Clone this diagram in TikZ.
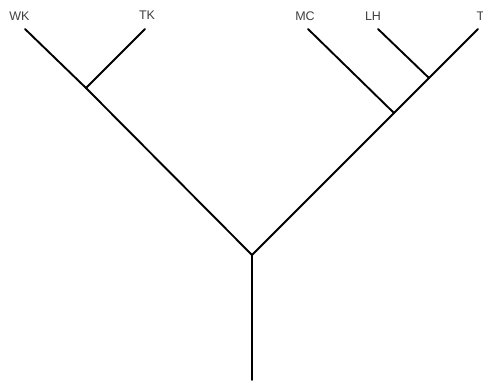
\documentclass[tikz,border=0pt]{standalone}
\usepackage{fontspec}
\setmainfont{Liberation Sans}
\begin{document}
\begin{tikzpicture}[x=1pt,y=-1pt,
  branch/.style={line width=1.9pt, line cap=round, line join=round},
  taxon/.style={font=\fontsize{12.5}{14}\selectfont, text=black!75, inner sep=0pt}]
\useasboundingbox (0,0) rectangle (483,383);
% labels
\node[taxon] (lwk) at (19.5,16) {WK};
\node[taxon] (ltk) at (147,15.5) {TK};
\node[taxon] (lmc) at (305,16) {MC};
\node[taxon] (llh) at (373,16) {LH};
\node[taxon, anchor=west] (lt) at (476.5,16) {T};
% tips
\coordinate (wk) at (25,29);
\coordinate (tk) at (145,29);
\coordinate (mc) at (308,29);
\coordinate (lh) at (378,29);
\coordinate (t) at (478,29);
% internal nodes
\coordinate (n1) at (86,88);
\coordinate (n3) at (429,78);
\coordinate (n2) at (394,113);
\coordinate (root) at (252,255);
\coordinate (base) at (252,380);
% branches
\draw[branch] (wk) -- (n1) -- (root);
\draw[branch] (tk) -- (n1);
\draw[branch] (t) -- (n3) -- (n2) -- (root);
\draw[branch] (lh) -- (n3);
\draw[branch] (mc) -- (n2);
\draw[branch] (root) -- (base);
\end{tikzpicture}
\end{document}
